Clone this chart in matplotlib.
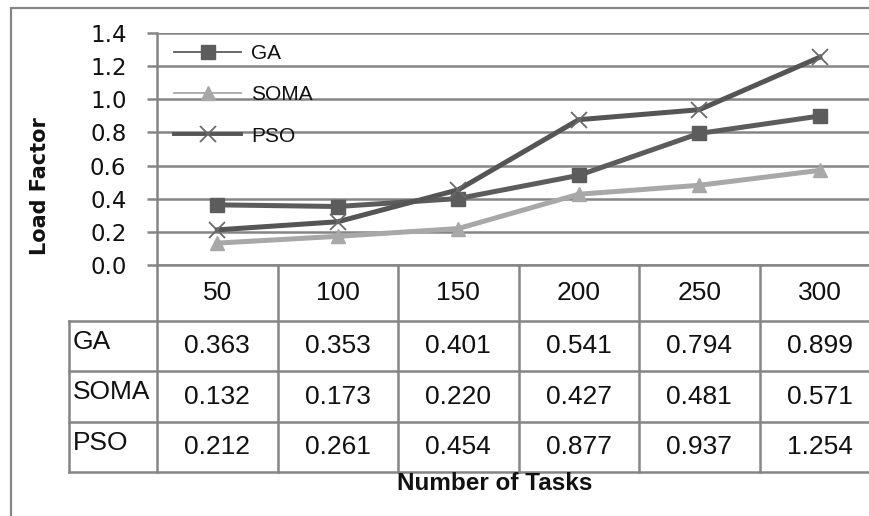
import matplotlib
matplotlib.use("Agg")
import matplotlib.pyplot as plt
from matplotlib.lines import Line2D
from matplotlib.patches import Rectangle
import matplotlib.transforms as mtrans

# Load factor vs. number of tasks
tasks = ["50", "100", "150", "200", "250", "300"]
ga = [0.363, 0.353, 0.401, 0.541, 0.794, 0.899]
soma = [0.132, 0.173, 0.220, 0.427, 0.481, 0.571]
pso = [0.212, 0.261, 0.454, 0.877, 0.937, 1.254]
series_names = ["GA", "SOMA", "PSO"]
y_ticks = [0.0, 0.2, 0.4, 0.6, 0.8, 1.0, 1.2, 1.4]

W, H = 870, 516
fig = plt.figure(figsize=(W / 100, H / 100), dpi=100)
fig.patch.set_facecolor("white")

grid_c = "#858585"
dark = "#5c5c5c"
light = "#a8a8a8"
txt = "#111111"

# outer chart frame (left/top edges visible)
fig.add_artist(Rectangle((11 / W, -0.1), 1.2, 1 - 8 / H + 0.1,
                         transform=fig.transFigure, fill=False,
                         edgecolor=grid_c, lw=1.6))

left_px, right_px, top_px, bot_px = 157, 880, 33, 265
ax = fig.add_axes([left_px / W, 1 - bot_px / H,
                   (right_px - left_px) / W, (bot_px - top_px) / H])
x = list(range(len(tasks)))
ax.set_xlim(-0.5, len(tasks) - 0.5)
ax.set_ylim(0, 1.4)

for s in ["top", "right", "bottom"]:
    ax.spines[s].set_visible(False)
ax.spines["left"].set_color(grid_c)
ax.spines["left"].set_linewidth(1.8)
ax.set_yticks(y_ticks)
ax.set_yticklabels([f"{v:.1f}" for v in y_ticks], fontsize=16.5,
                   color=txt, family="DejaVu Sans")
ax.tick_params(axis="y", length=7, width=1.8, color=grid_c, pad=15)
ax.set_xticks([])
ax.yaxis.grid(True, color=grid_c, lw=1.8)
ax.set_axisbelow(True)

ax.plot(x, ga, color=dark, lw=3.6, marker="s", ms=10.5, mfc=dark, mec=dark,
        zorder=3)
ax.plot(x, soma, color=light, lw=3.6, marker="^", ms=9.5, mfc=light,
        mec=light, zorder=3)
ax.plot(x, pso, color="#555555", lw=3.6, marker="x", ms=11, mew=1.3,
        mec="#6a6a6a", zorder=4)

handles = [
    Line2D([], [], color=dark, lw=1.3, marker="s", ms=10.5, mfc=dark, mec=dark),
    Line2D([], [], color=light, lw=1.3, marker="^", ms=9.5, mfc=light,
           mec=light),
    Line2D([], [], color="#555555", lw=2.8, marker="x", ms=11, mew=1.3,
           mec="#6a6a6a"),
]
leg = ax.legend(handles, series_names, loc="upper left",
                bbox_to_anchor=(0.024, 0.952), frameon=False, borderpad=0,
                borderaxespad=0, handlelength=3.2, handletextpad=0.5,
                labelspacing=1.07, prop={"family": "Liberation Sans",
                                         "size": 15})
for t in leg.get_texts():
    t.set_color(txt)

ax.set_ylabel("Load Factor", fontsize=15, fontweight="bold", color=txt,
              family="DejaVu Sans")
ax.yaxis.set_label_coords((50 - left_px) / (right_px - left_px), 0.34)

# data table below the plot, columns aligned with categories
tr = mtrans.blended_transform_factory(ax.transData, fig.transFigure)
row_px = [265, 321, 371, 422, 472]
ry = [1 - r / H for r in row_px]
col_w_px = (right_px - left_px) / len(tasks)
lab_left = -0.5 - (left_px - 69) / col_w_px
line_kw = dict(color=grid_c, lw=1.8, transform=tr, clip_on=False)

# horizontal rules
ax.plot([-0.5, len(tasks) - 0.5], [ry[1], ry[1]], **line_kw)
ax.plot([lab_left, -0.5], [ry[1], ry[1]], **line_kw)
for yy in ry[2:]:
    ax.plot([lab_left, len(tasks) - 0.5], [yy, yy], **line_kw)
ax.plot([-0.5, len(tasks) - 0.5], [ry[0], ry[0]], **line_kw)
# vertical rules
ax.plot([lab_left, lab_left], [ry[1], ry[-1]], **line_kw)
for i in range(len(tasks) + 1):
    ax.plot([i - 0.5, i - 0.5], [ry[0], ry[-1]], **line_kw)

tab_font = dict(family="Liberation Sans", fontsize=19, color=txt,
                transform=tr, clip_on=False)
for i, t in enumerate(tasks):
    ax.text(i, (ry[0] + ry[1]) / 2, t, ha="center", va="center", **tab_font)
for r, (name, vals) in enumerate(zip(series_names, [ga, soma, pso])):
    yc = (ry[r + 1] + ry[r + 2]) / 2
    ax.text(lab_left + 0.03, yc + 0.008, name, ha="left", va="center",
            **tab_font)
    for i, v in enumerate(vals):
        ax.text(i, yc, f"{v:.3f}", ha="center", va="center", **tab_font)

fig.text(495 / W, 1 - 483 / H, "Number of Tasks", ha="center", va="center",
         family="Liberation Sans", fontsize=17.5, fontweight="bold",
         color=txt)

fig.savefig("out.png", dpi=100, facecolor="white")
